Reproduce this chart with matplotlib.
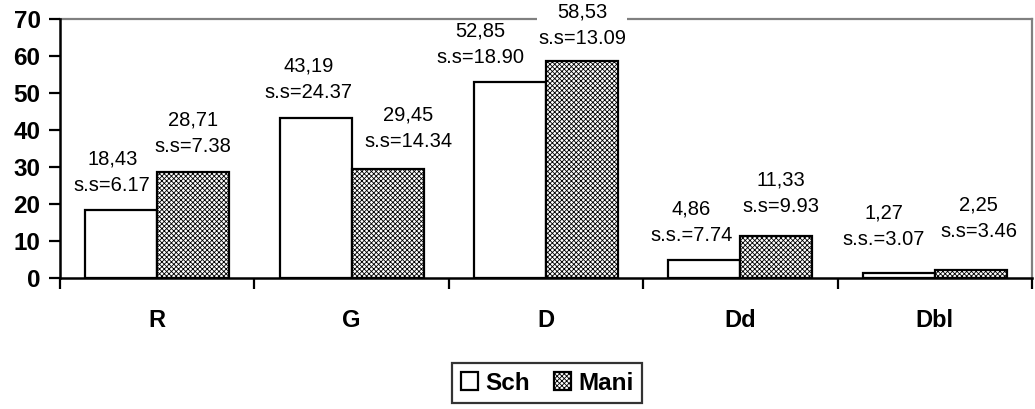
import numpy as np
import matplotlib.pyplot as plt

plt.rcParams['font.family'] = ['Liberation Sans', 'DejaVu Sans']
plt.rcParams['hatch.linewidth'] = 0.6

categories = ['R', 'G', 'D', 'Dd', 'Dbl']
sch = [18.43, 43.19, 52.85, 4.86, 1.27]
mani = [28.71, 29.45, 58.53, 11.33, 2.25]
sch_sd = ['s.s=6.17', 's.s=24.37', 's.s=18.90', 's.s.=7.74', 's.s.=3.07']
mani_sd = ['s.s=7.38', 's.s=14.34', 's.s=13.09', 's.s=9.93', 's.s=3.46']
# label nudges (px) from bar top centre, as placed by hand in the original
sch_dx = [-9, -7, -30, -13, -15]
sch_gap = [15, 16, 15, 15, 24]
mani_dx = [0, 21, 0, 5, 8]
mani_gap = [16, 18, 13, 20, 29]

fig = plt.figure(figsize=(10.35, 4.09), dpi=100)
ax = fig.add_axes([60 / 1035, 1 - 278 / 409, 972 / 1035, 259 / 409])

x = np.arange(len(categories))
w = 0.37
b1 = ax.bar(x - w / 2, sch, w, color='white', edgecolor='black', linewidth=1.6,
            label='Sch', zorder=2)
b2 = ax.bar(x + w / 2, mani, w, color='white', edgecolor='black', linewidth=1.6,
            hatch='xxxxxxx', label='Mani', zorder=2)


def put_labels(xs, vals, sds, dxs, gaps):
    for xi, v, s, dx, g in zip(xs, vals, sds, dxs, gaps):
        txt = ('%.2f' % v).replace('.', ',') + '\n' + s
        ax.annotate(txt, (xi, v), xytext=(dx * 0.72, g * 0.72), textcoords='offset points',
                    ha='center', va='bottom', fontsize=14.5, linespacing=1.5,
                    bbox=dict(facecolor='white', edgecolor='none', pad=0.5),
                    zorder=4, annotation_clip=False)


put_labels(x - w / 2, sch, sch_sd, sch_dx, sch_gap)
put_labels(x + w / 2, mani, mani_sd, mani_dx, mani_gap)

ax.set_xlim(-0.5, len(categories) - 0.5)
ax.set_ylim(0, 70)
ax.set_yticks(range(0, 71, 10))
ax.set_xticks(x)
ax.set_xticklabels(categories, fontsize=17, fontweight='bold')
ax.set_xticks(np.arange(-0.5, len(categories)), minor=True)
ax.tick_params(axis='x', which='major', length=0, pad=22)
ax.tick_params(axis='x', which='minor', length=8, width=1.6, direction='out')
ax.tick_params(axis='y', length=8, width=1.6, direction='out', pad=6, labelsize=17.5)
for lab in ax.get_yticklabels():
    lab.set_fontweight('bold')

for side in ['left', 'bottom']:
    ax.spines[side].set_linewidth(1.8)
    ax.spines[side].set_zorder(3)
for side in ['top', 'right']:
    ax.spines[side].set_color('#808080')
    ax.spines[side].set_linewidth(1.6)
    ax.spines[side].set_zorder(1)

leg = fig.legend(handles=[b1, b2], loc='center', bbox_to_anchor=(547 / 1035, 1 - 383 / 409),
                 ncol=2, frameon=True, fancybox=False, edgecolor='black',
                 prop={'weight': 'bold', 'size': 17.5}, handlelength=0.7, handleheight=0.7,
                 handletextpad=0.3, columnspacing=1.0, borderpad=0.35)
leg.get_frame().set_linewidth(1.6)

fig.savefig('out.png', dpi=100)
